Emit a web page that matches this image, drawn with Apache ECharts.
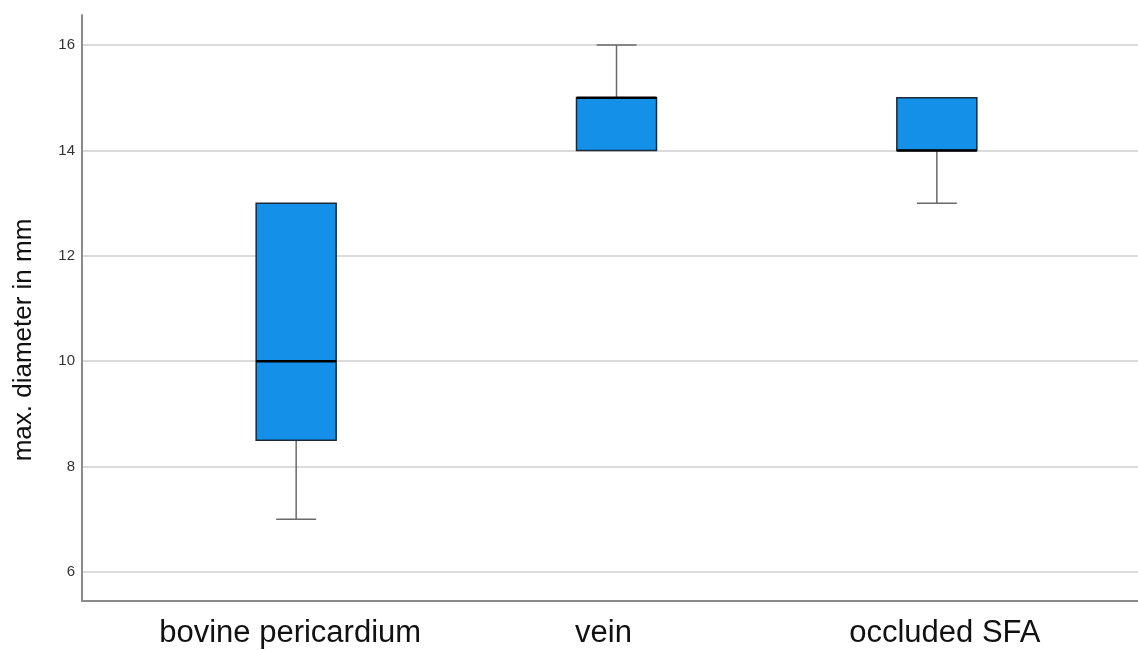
<!DOCTYPE html>
<html>
<head>
<meta charset="utf-8">
<script src="https://cdn.jsdelivr.net/npm/echarts@6/dist/echarts.min.js"></script>
<style>html,body{margin:0;padding:0;background:#fff;}#c{width:1138px;height:650px;}</style>
</head>
<body>
<div id="c"></div>
<script>
var categories = ['bovine pericardium', 'vein', 'occluded SFA'];
var whiskerLow = [7, 14, 13];
var q1 = [8.5, 14, 14];
var median = [10, 15, 14];
var q3 = [13, 15, 15];
var whiskerHigh = [13, 16, 15];
var yTicks = [6, 8, 10, 12, 14, 16];
var yName = 'max. diameter in mm';
var yMin = 5.45, yMax = 16.57;

var boxData = categories.map(function (c, i) {
  return [i, whiskerLow[i], q1[i], median[i], q3[i], whiskerHigh[i]];
});

var labelFont = { fontSize: 31, color: '#111', fontFamily: 'Liberation Sans, Arial, sans-serif' };
function richStyle(padding) {
  return Object.assign({ padding: padding }, labelFont);
}

var chart = echarts.init(document.getElementById('c'));
chart.setOption({
  animation: false,
  backgroundColor: '#fff',
  grid: [
    { left: 82, right: 0, top: 15, bottom: 49, containLabel: false, outerBoundsMode: 'none' },
    { left: 136, right: 41, top: 15, bottom: 49, containLabel: false, outerBoundsMode: 'none' }
  ],
  xAxis: [
    { gridIndex: 0, type: 'category', data: categories, axisLabel: { show: false }, axisTick: { show: false },
      axisLine: { lineStyle: { color: '#8a8a8a', width: 2 } } },
    { gridIndex: 1, type: 'category', data: categories, axisTick: { show: false }, axisLine: { show: false },
      axisLabel: Object.assign({ interval: 0, hideOverlap: false, margin: 17,
        formatter: function (v, i) { return '{l' + i + '|' + v + '}'; },
        rich: { l0: richStyle([0, 12, 0, 0]), l1: richStyle([0, 26, 0, 0]), l2: richStyle([0, 0, 0, 16]) } }, labelFont) }
  ],
  yAxis: [
    { gridIndex: 0, type: 'value', min: yMin, max: yMax,
      name: yName, nameLocation: 'middle', nameGap: 45, nameRotate: 90,
      nameTextStyle: { fontSize: 26, color: '#111', fontFamily: 'Liberation Sans, Arial, sans-serif', padding: [0, 64, 0, 0] },
      axisLine: { show: true, lineStyle: { color: '#8a8a8a', width: 2 } },
      axisTick: { show: false, customValues: yTicks },
      axisLabel: { customValues: yTicks, margin: 7, fontSize: 15, color: '#333', fontFamily: 'Liberation Sans, Arial, sans-serif' },
      splitLine: { show: true, lineStyle: { color: '#cfcfcf', width: 1.5 } } },
    { gridIndex: 1, type: 'value', min: yMin, max: yMax, show: false, splitLine: { show: false } }
  ],
  series: [{
    type: 'custom',
    xAxisIndex: 1, yAxisIndex: 1,
    data: boxData,
    renderItem: function (params, api) {
      var x = api.value(0);
      var pLow = api.coord([x, api.value(1)]);
      var pQ1 = api.coord([x, api.value(2)]);
      var pMed = api.coord([x, api.value(3)]);
      var pQ3 = api.coord([x, api.value(4)]);
      var pHigh = api.coord([x, api.value(5)]);
      var cx = pQ1[0];
      var bw = 80, cw = 40;
      var wStyle = { stroke: '#6a6a6a', lineWidth: 1.5 };
      var children = [];
      if (pLow[1] !== pQ1[1]) {
        children.push({ type: 'line', shape: { x1: cx, y1: pQ1[1], x2: cx, y2: pLow[1] }, style: wStyle });
        children.push({ type: 'line', shape: { x1: cx - cw / 2, y1: pLow[1], x2: cx + cw / 2, y2: pLow[1] }, style: wStyle });
      }
      if (pHigh[1] !== pQ3[1]) {
        children.push({ type: 'line', shape: { x1: cx, y1: pQ3[1], x2: cx, y2: pHigh[1] }, style: wStyle });
        children.push({ type: 'line', shape: { x1: cx - cw / 2, y1: pHigh[1], x2: cx + cw / 2, y2: pHigh[1] }, style: wStyle });
      }
      children.push({ type: 'rect', shape: { x: cx - bw / 2, y: pQ3[1], width: bw, height: pQ1[1] - pQ3[1] },
        style: { fill: '#1590e8', stroke: '#1b2a3a', lineWidth: 1.5 } });
      children.push({ type: 'line', shape: { x1: cx - bw / 2, y1: pMed[1], x2: cx + bw / 2, y2: pMed[1] },
        style: { stroke: '#000', lineWidth: 2.5 } });
      return { type: 'group', children: children };
    }
  }]
});
</script>
</body>
</html>
